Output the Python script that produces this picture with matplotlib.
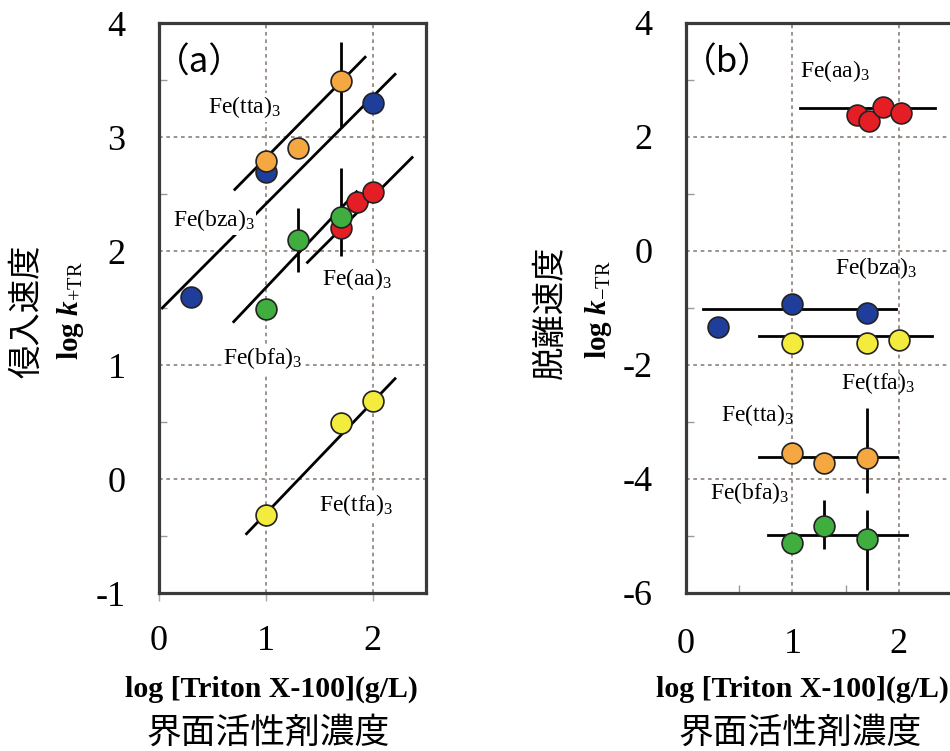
import numpy as np
import matplotlib
matplotlib.use("Agg")
import matplotlib.pyplot as plt
from matplotlib.ticker import MultipleLocator

plt.rcParams['font.family'] = ['Liberation Serif', 'DejaVu Serif']
plt.rcParams['axes.unicode_minus'] = False
plt.rcParams['mathtext.fontset'] = 'custom'
plt.rcParams['mathtext.rm'] = 'Liberation Serif'
plt.rcParams['mathtext.it'] = 'Liberation Serif:style=italic:weight=bold'
plt.rcParams['mathtext.bf'] = 'Liberation Serif:weight=bold'

CJK = 'Noto Sans CJK JP'

# colours per complex
colors = {'tta': '#F5A742', 'bza': '#1F3E9C', 'aa': '#E51E25',
          'bfa': '#3FAE3F', 'tfa': '#F3EC3C'}

# ---------------- panel (a): log k+TR ----------------
a_tta_x = [1.0, 1.3, 1.7]
a_tta_y = [2.79, 2.90, 3.49]
a_tta_err_lo = [0, 0, 0.40]
a_tta_err_hi = [0, 0, 0.34]

a_bza_x = [0.3, 1.0, 2.0]
a_bza_y = [1.60, 2.69, 3.30]

a_aa_x = [1.7, 1.85, 2.0]
a_aa_y = [2.20, 2.43, 2.52]

a_bfa_x = [1.0, 1.3, 1.7]
a_bfa_y = [1.49, 2.10, 2.30]
a_bfa_err_lo = [0, 0.28, 0.34]
a_bfa_err_hi = [0, 0.28, 0.43]

a_tfa_x = [1.0, 1.7, 2.0]
a_tfa_y = [-0.32, 0.49, 0.68]

# fitted lines: (x0, x1), (y0, y1)
a_fit = {
    'tta': ([0.71, 1.93], [2.54, 3.70]),
    'bza': ([0.03, 2.21], [1.50, 3.55]),
    'bfa': ([0.70, 1.85], [1.38, 2.52]),
    'aa':  ([1.39, 2.37], [1.90, 2.82]),
    'tfa': ([0.82, 2.21], [-0.48, 0.88]),
}

# ---------------- panel (b): log k-TR ----------------
b_aa_x = [1.61, 1.72, 1.85, 2.02]
b_aa_y = [2.39, 2.28, 2.53, 2.42]

b_bza_x = [0.3, 1.0, 1.7]
b_bza_y = [-1.33, -0.93, -1.09]

b_tfa_x = [1.0, 1.7, 2.0]
b_tfa_y = [-1.61, -1.61, -1.56]

b_tta_x = [1.0, 1.3, 1.7]
b_tta_y = [-3.54, -3.72, -3.63]
b_tta_err_lo = [0, 0, 0.62]
b_tta_err_hi = [0, 0, 0.88]

b_bfa_x = [1.0, 1.3, 1.7]
b_bfa_y = [-5.12, -4.82, -5.05]
b_bfa_err_lo = [0, 0.41, 0.90]
b_bfa_err_hi = [0, 0.45, 0.51]

b_fit = {
    'aa':  ([1.07, 2.34], [2.51, 2.51]),
    'bza': ([0.16, 1.97], [-1.02, -1.02]),
    'tfa': ([0.69, 2.31], [-1.49, -1.49]),
    'tta': ([0.69, 1.98], [-3.61, -3.61]),
    'bfa': ([0.77, 2.08], [-4.98, -4.98]),
}

fig = plt.figure(figsize=(9.5, 7.51), dpi=100)
axa = fig.add_axes([159/950, 1-593/751, 267/950, 570/751])
axb = fig.add_axes([686/950, 1-593/751, 266/950, 570/751])

grid_kw = dict(color='#8c7f78', linestyle=(0, (2.2, 2.2)), linewidth=1.2, zorder=0)
marker_kw = dict(marker='o', markersize=15, markeredgecolor='#222222',
                 markeredgewidth=1.2, linestyle='none', zorder=4)


def style_axes(ax, ylim, ymajor, yminor):
    ax.set_xlim(0, 2.5)
    ax.set_ylim(*ylim)
    ax.xaxis.set_major_locator(MultipleLocator(1))
    ax.yaxis.set_major_locator(MultipleLocator(ymajor))
    ax.yaxis.set_minor_locator(MultipleLocator(yminor))
    for s in ax.spines.values():
        s.set_color('#3a3a3a')
        s.set_linewidth(2.3)
    ax.tick_params(axis='y', which='major', length=0, pad=24, labelsize=26)
    ax.tick_params(axis='y', which='minor', direction='in', length=6,
                   width=1, color='#999999')
    ax.tick_params(axis='x', labelsize=26)


# panel (a)
style_axes(axa, (-1, 4), 1, 0.5)
axa.tick_params(axis='x', which='major', direction='out', length=6,
                width=1, color='#aaaaaa', pad=17)
for gx in [1, 2]:
    axa.axvline(gx, **grid_kw)
for gy in [0, 1, 2, 3]:
    axa.axhline(gy, **grid_kw)

for key, (fx, fy) in a_fit.items():
    axa.plot(fx, fy, color='black', lw=2.0, zorder=2)

axa.errorbar(a_tta_x, a_tta_y, yerr=[a_tta_err_lo, a_tta_err_hi], fmt='none',
             ecolor='black', elinewidth=2.0, capsize=0, zorder=3)
axa.errorbar(a_bfa_x, a_bfa_y, yerr=[a_bfa_err_lo, a_bfa_err_hi], fmt='none',
             ecolor='black', elinewidth=2.0, capsize=0, zorder=3)
axa.plot(a_bza_x, a_bza_y, color=colors['bza'], **marker_kw)
axa.plot(a_tta_x, a_tta_y, color=colors['tta'], **marker_kw)
axa.plot(a_aa_x, a_aa_y, color=colors['aa'], **marker_kw)
axa.plot(a_bfa_x, a_bfa_y, color=colors['bfa'], **marker_kw)
axa.plot(a_tfa_x, a_tfa_y, color=colors['tfa'], **marker_kw)

lab_kw = dict(fontsize=17, ha='left', va='center', zorder=5,
              bbox=dict(facecolor='white', edgecolor='none', pad=1))
axa.text(0.46, 3.26, r'Fe(tta)$_{3}$', **lab_kw)
axa.text(0.13, 2.27, r'Fe(bza)$_{3}$', **lab_kw)
axa.text(1.53, 1.75, r'Fe(aa)$_{3}$', **lab_kw)
axa.text(0.60, 1.06, r'Fe(bfa)$_{3}$', **lab_kw)
axa.text(1.50, -0.23, r'Fe(tfa)$_{3}$', **lab_kw)
axa.text(0.38, 3.65, '（a）', family=[CJK, 'DejaVu Sans'], fontsize=25,
         ha='center', va='center', zorder=5)

# panel (b)
style_axes(axb, (-6, 4), 2, 1)
axb.xaxis.set_minor_locator(MultipleLocator(0.5))
axb.tick_params(axis='x', which='major', length=0, pad=25)
axb.tick_params(axis='x', which='minor', direction='in', length=6,
                width=1, color='#999999')
for gx in [1, 2]:
    axb.axvline(gx, **grid_kw)
for gy in [-4, -2, 0, 2]:
    axb.axhline(gy, **grid_kw)

for key, (fx, fy) in b_fit.items():
    axb.plot(fx, fy, color='black', lw=2.0, zorder=2)

axb.errorbar(b_tta_x, b_tta_y, yerr=[b_tta_err_lo, b_tta_err_hi], fmt='none',
             ecolor='black', elinewidth=2.0, capsize=0, zorder=3)
axb.errorbar(b_bfa_x, b_bfa_y, yerr=[b_bfa_err_lo, b_bfa_err_hi], fmt='none',
             ecolor='black', elinewidth=2.0, capsize=0, zorder=3)
axb.plot(b_aa_x, b_aa_y, color=colors['aa'], **marker_kw)
axb.plot(b_bza_x, b_bza_y, color=colors['bza'], **marker_kw)
axb.plot(b_tfa_x, b_tfa_y, color=colors['tfa'], **marker_kw)
axb.plot(b_tta_x, b_tta_y, color=colors['tta'], **marker_kw)
axb.plot(b_bfa_x, b_bfa_y, color=colors['bfa'], **marker_kw)

lab_b = dict(fontsize=17, ha='left', va='center', zorder=5)
axb.text(1.07, 3.15, r'Fe(aa)$_{3}$', **lab_b)
axb.text(1.40, -0.30, r'Fe(bza)$_{3}$', **lab_b)
axb.text(1.46, -2.32, r'Fe(tfa)$_{3}$', **lab_b)
axb.text(0.33, -2.88, r'Fe(tta)$_{3}$', **lab_b)
axb.text(0.23, -4.25, r'Fe(bfa)$_{3}$', **lab_b)
axb.text(0.385, 3.30, '（b）', family=[CJK, 'DejaVu Sans'], fontsize=25,
         ha='center', va='center', zorder=5)

# axis titles
fig.text(27/950, 1-311/751, '侵入速度', family=[CJK], fontsize=24,
         rotation=90, ha='center', va='center')
fig.text(70/950, 1-311/751, r'log $k_{\mathrm{+TR}}$', fontsize=21,
         fontweight='bold', rotation=90, ha='center', va='center')
fig.text(550/950, 1-312/751, '脱離速度', family=[CJK], fontsize=24,
         rotation=90, ha='center', va='center')
fig.text(598/950, 1-310/751, r'log $k_{\mathrm{-TR}}$', fontsize=21,
         fontweight='bold', rotation=90, ha='center', va='center')

for cx, cxj in [(271, 268), (802, 800)]:
    fig.text(cx/950, 1-689/751, 'log [Triton X-100](g/L)', fontsize=21.5,
             fontweight='bold', ha='center', va='center')
    fig.text(cxj/950, 1-733/751, '界面活性剤濃度', family=[CJK], fontsize=25,
             ha='center', va='center')

fig.savefig('out.png', dpi=100)
